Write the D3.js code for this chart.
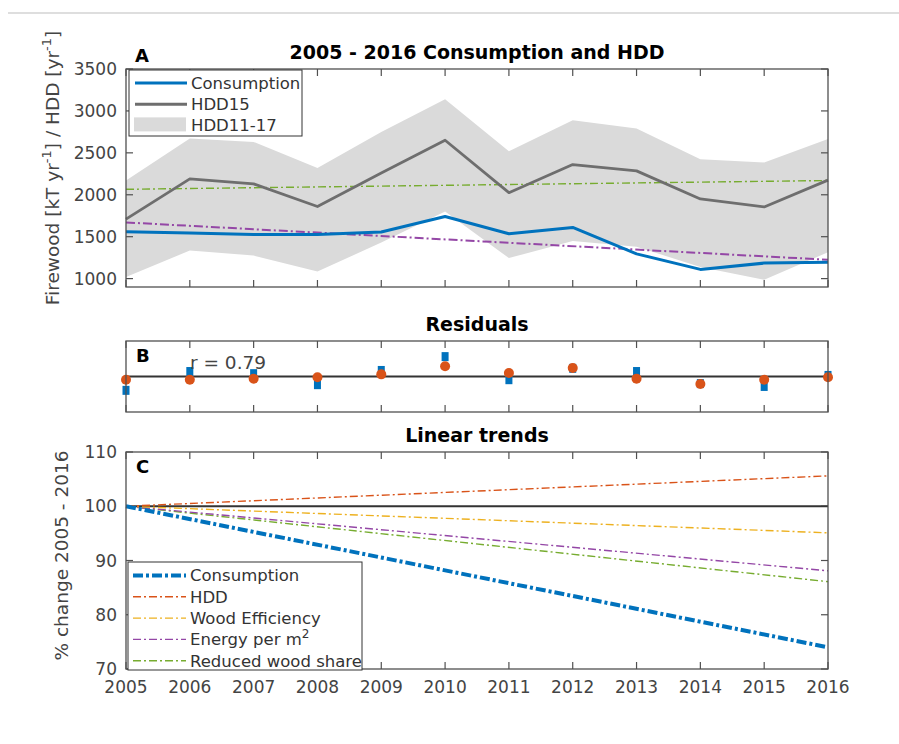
<!DOCTYPE html>
<html>
<head>
<meta charset="utf-8">
<script src="https://cdn.jsdelivr.net/npm/d3@7"></script>
<style>
  body { margin: 0; background: #fff; }
  svg { display: block; font-family: "DejaVu Sans", sans-serif; }
  .tick-label { fill: #444; font-size: 17px; }
  .title { font-size: 19px; font-weight: bold; fill: #000; }
  .panel-tag { font-size: 18px; font-weight: bold; fill: #000; }
</style>
</head>
<body>
<div id="chart"></div>
<script>
// ---- data ----
const years = [2005, 2006, 2007, 2008, 2009, 2010, 2011, 2012, 2013, 2014, 2015, 2016];

// panel A: firewood consumption [kT/yr] and heating degree days
const consumption = [1560, 1545, 1525, 1525, 1555, 1740, 1535, 1610, 1295, 1110, 1185, 1195];
const hdd15 = [1710, 2190, 2130, 1860, 2260, 2650, 2025, 2360, 2285, 1950, 1855, 2175];
const hddHigh = [2170, 2670, 2630, 2320, 2750, 3140, 2520, 2890, 2790, 2425, 2385, 2665];
const hddLow = [1020, 1335, 1275, 1085, 1430, 1800, 1245, 1450, 1380, 1140, 985, 1315];
const trendYears = [2005, 2016];
const hddTrendA = [2065, 2170];
const consTrendA = [1670, 1225];

// panel B: residuals (normalised)
const residConsumption = [-0.39, 0.14, 0.08, -0.23, 0.17, 0.56, -0.09, 0.23, 0.14, -0.2, -0.28, 0.03];
const residHdd = [-0.09, -0.09, -0.06, -0.02, 0.06, 0.29, 0.1, 0.24, -0.06, -0.21, -0.09, -0.02];
const rText = 'r = 0.79';

// panel C: linear trends, % of 2005
const trendNames = ['Consumption', 'HDD', 'Wood Efficiency', 'Energy per m', 'Reduced wood share'];
const trendStart = [100, 100, 100, 100, 100];
const trendEnd = [74, 105.6, 95.1, 88.1, 86.1];

const yTicksA = [1000, 1500, 2000, 2500, 3000, 3500];
const yTicksC = [70, 80, 90, 100, 110];

// ---- layout ----
const W = 899;
const H = 744;
const axisColor = '#505050';
const matlab = {
  blue: '#0072BD', orange: '#D95319', yellow: '#EDB120', purple: '#9447A6', green: '#77AC30',
};
const trendColors = [matlab.blue, matlab.orange, matlab.yellow, matlab.purple, matlab.green];

const svg = d3.select('#chart').append('svg')
  .attr('width', W)
  .attr('height', H);

// thin rule at the top of the page
svg.append('line')
  .attr('x1', 8).attr('x2', W)
  .attr('y1', 13).attr('y2', 13)
  .attr('stroke', '#bdbdbd')
  .attr('stroke-width', 1.2);

const xScale = d3.scaleLinear().domain([2005, 2016]).range([126, 828]);
const yA = d3.scaleLinear().domain([900, 3500]).range([287, 69]);
const yB = d3.scaleLinear().domain([-1, 1]).range([412, 341]);
const yC = d3.scaleLinear().domain([70, 110]).range([669, 452]);

const tickLen = 7;

function frame(yScale, yTicks) {
  const [y0, y1] = yScale.range();
  const [x0, x1] = xScale.range();
  const g = svg.append('g');
  // x ticks (bottom + top, pointing inwards)
  years.forEach((yr) => {
    const x = xScale(yr);
    g.append('line').attr('x1', x).attr('x2', x).attr('y1', y0).attr('y2', y0 - tickLen)
      .attr('stroke', axisColor).attr('stroke-width', 1.2);
    g.append('line').attr('x1', x).attr('x2', x).attr('y1', y1).attr('y2', y1 + tickLen)
      .attr('stroke', axisColor).attr('stroke-width', 1.2);
  });
  (yTicks || []).forEach((v) => {
    const y = yScale(v);
    g.append('line').attr('x1', x0).attr('x2', x0 + tickLen).attr('y1', y).attr('y2', y)
      .attr('stroke', axisColor).attr('stroke-width', 1.2);
    g.append('line').attr('x1', x1).attr('x2', x1 - tickLen).attr('y1', y).attr('y2', y)
      .attr('stroke', axisColor).attr('stroke-width', 1.2);
    g.append('text')
      .attr('class', 'tick-label')
      .attr('x', x0 - 9)
      .attr('y', y)
      .attr('dy', '0.36em')
      .attr('text-anchor', 'end')
      .text(v);
  });
  return g;
}

function box(yScale) {
  const [y0, y1] = yScale.range();
  const [x0, x1] = xScale.range();
  svg.append('rect')
    .attr('x', x0).attr('y', y1)
    .attr('width', x1 - x0).attr('height', y0 - y1)
    .attr('fill', 'none')
    .attr('stroke', axisColor)
    .attr('stroke-width', 1.3);
}

function title(text, y) {
  svg.append('text')
    .attr('class', 'title')
    .attr('x', (xScale(2005) + xScale(2016)) / 2)
    .attr('y', y)
    .attr('text-anchor', 'middle')
    .text(text);
}

function tag(text, x, y) {
  svg.append('text').attr('class', 'panel-tag').attr('x', x).attr('y', y).text(text);
}

// ---------- panel A ----------
const lineA = (vals, xs) => d3.line()
  .x((d, i) => xScale(xs[i]))
  .y(d => yA(d))(vals);

const bandArea = d3.area()
  .x((d, i) => xScale(years[i]))
  .y0((d, i) => yA(hddLow[i]))
  .y1(d => yA(d));

svg.append('path')
  .attr('d', bandArea(hddHigh))
  .attr('fill', '#dadada');

svg.append('path')
  .attr('d', lineA(hddTrendA, trendYears))
  .attr('fill', 'none')
  .attr('stroke', matlab.green)
  .attr('stroke-width', 1.4)
  .attr('stroke-dasharray', '8,3,2,3');

svg.append('path')
  .attr('d', lineA(consTrendA, trendYears))
  .attr('fill', 'none')
  .attr('stroke', matlab.purple)
  .attr('stroke-width', 2)
  .attr('stroke-dasharray', '9,3,2,3');

svg.append('path')
  .attr('d', lineA(hdd15, years))
  .attr('fill', 'none')
  .attr('stroke', '#6e6e6e')
  .attr('stroke-width', 2.8)
  .attr('stroke-linejoin', 'round');

svg.append('path')
  .attr('d', lineA(consumption, years))
  .attr('fill', 'none')
  .attr('stroke', matlab.blue)
  .attr('stroke-width', 3)
  .attr('stroke-linejoin', 'round');

frame(yA, yTicksA);
box(yA);
title('2005 - 2016 Consumption and HDD', 59);
tag('A', 135, 62);

// legend A
const legA = svg.append('g');
legA.append('rect')
  .attr('x', 129).attr('y', 70).attr('width', 173).attr('height', 66)
  .attr('fill', '#fff').attr('stroke', '#333').attr('stroke-width', 1);
const legAItems = [
  { label: 'Consumption', color: matlab.blue, kind: 'line' },
  { label: 'HDD15', color: '#6e6e6e', kind: 'line' },
  { label: 'HDD11-17', color: '#dadada', kind: 'patch' },
];
legAItems.forEach((d, i) => {
  const cy = 83 + i * 21.2;
  if (d.kind === 'line') {
    legA.append('line').attr('x1', 135).attr('x2', 187).attr('y1', cy).attr('y2', cy)
      .attr('stroke', d.color).attr('stroke-width', 3);
  } else {
    legA.append('rect').attr('x', 134).attr('y', cy - 8).attr('width', 52).attr('height', 14)
      .attr('fill', d.color);
  }
  legA.append('text')
    .attr('x', 191).attr('y', cy).attr('dy', '0.36em')
    .attr('font-size', 16.5).attr('fill', '#333')
    .text(d.label);
});

// y label A
const ylabA = svg.append('text')
  .attr('transform', `translate(59,${168}) rotate(-90)`)
  .attr('text-anchor', 'middle')
  .attr('font-size', 18.5)
  .attr('fill', '#444');
ylabA.append('tspan').text('Firewood [kT yr');
ylabA.append('tspan').attr('dy', -8).attr('font-size', 13).text('-1');
ylabA.append('tspan').attr('dy', 8).text('] / HDD [yr');
ylabA.append('tspan').attr('dy', -8).attr('font-size', 13).text('-1');
ylabA.append('tspan').attr('dy', 8).text(']');

// ---------- panel B ----------
frame(yB, []);
svg.append('line')
  .attr('x1', xScale(2005)).attr('x2', xScale(2016))
  .attr('y1', yB(0)).attr('y2', yB(0))
  .attr('stroke', '#333').attr('stroke-width', 2);

svg.append('g').selectAll('rect')
  .data(residConsumption)
  .join('rect')
  .attr('x', (d, i) => xScale(years[i]) - 3.5)
  .attr('y', d => yB(d) - 4.5)
  .attr('width', 7)
  .attr('height', 9)
  .attr('fill', matlab.blue);

svg.append('g').selectAll('circle')
  .data(residHdd)
  .join('circle')
  .attr('cx', (d, i) => xScale(years[i]))
  .attr('cy', d => yB(d))
  .attr('r', 5)
  .attr('fill', matlab.orange);

box(yB);
title('Residuals', 331);
tag('B', 136, 362);
svg.append('text')
  .attr('x', 190).attr('y', 369)
  .attr('font-size', 18.5).attr('fill', '#444')
  .text(rText);

// ---------- panel C ----------
const gC = frame(yC, yTicksC);
years.forEach((yr) => {
  gC.append('text')
    .attr('class', 'tick-label')
    .attr('x', xScale(yr))
    .attr('y', yC(70) + 24)
    .attr('text-anchor', 'middle')
    .text(yr);
});

svg.append('line')
  .attr('x1', xScale(2005)).attr('x2', xScale(2016))
  .attr('y1', yC(100)).attr('y2', yC(100))
  .attr('stroke', '#333').attr('stroke-width', 1.8);

const order = [4, 3, 2, 1, 0];
order.forEach((k) => {
  const thick = k === 0;
  svg.append('line')
    .attr('x1', xScale(2005)).attr('y1', yC(trendStart[k]))
    .attr('x2', xScale(2016)).attr('y2', yC(trendEnd[k]))
    .attr('stroke', trendColors[k])
    .attr('stroke-width', thick ? 4 : 1.4)
    .attr('stroke-dasharray', thick ? '10,3,3,3' : '8,3,2,3');
});

box(yC);
title('Linear trends', 442);
tag('C', 136, 473);

// legend C
const legC = svg.append('g');
legC.append('rect')
  .attr('x', 128).attr('y', 562).attr('width', 234).attr('height', 108)
  .attr('fill', '#fff').attr('stroke', '#333').attr('stroke-width', 1);
trendNames.forEach((name, k) => {
  const cy = 575.5 + k * 21.3;
  const thick = k === 0;
  legC.append('line')
    .attr('x1', 133).attr('x2', 186).attr('y1', cy).attr('y2', cy)
    .attr('stroke', trendColors[k])
    .attr('stroke-width', thick ? 4 : 1.4)
    .attr('stroke-dasharray', thick ? '10,3,3,3' : '8,3,2,3');
  const t = legC.append('text')
    .attr('x', 190).attr('y', cy).attr('dy', '0.36em')
    .attr('font-size', 16.5).attr('fill', '#333');
  t.append('tspan').text(name);
  if (k === 3) {
    t.append('tspan').attr('dy', -7).attr('font-size', 12).text('2');
  }
});

svg.append('text')
  .attr('transform', `translate(68,${(yC(70) + yC(110)) / 2 - 5}) rotate(-90)`)
  .attr('text-anchor', 'middle')
  .attr('font-size', 18.5)
  .attr('fill', '#444')
  .text('% change 2005 - 2016');
</script>
</body>
</html>
